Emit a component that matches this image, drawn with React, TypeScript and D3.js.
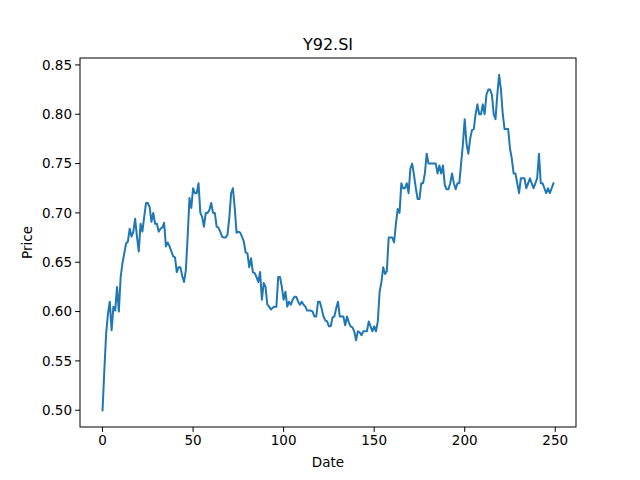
import React from "react";
import * as d3 from "d3";

const title = "Y92.SI";
const xLabel = "Date";
const yLabel = "Price";
const prices: number[] = [
  0.5, 0.541, 0.578, 0.598, 0.61, 0.581, 0.605, 0.601, 0.625, 0.6,
  0.635, 0.649, 0.659, 0.669, 0.671, 0.684, 0.676, 0.681, 0.694, 0.676,
  0.661, 0.689, 0.681, 0.696, 0.71, 0.71, 0.706, 0.691, 0.7, 0.689,
  0.689, 0.681, 0.684, 0.685, 0.69, 0.666, 0.67, 0.666, 0.661, 0.656,
  0.655, 0.64, 0.645, 0.645, 0.636, 0.63, 0.642, 0.676, 0.715, 0.705,
  0.725, 0.72, 0.72, 0.73, 0.7, 0.696, 0.686, 0.7, 0.7, 0.703,
  0.71, 0.7, 0.7, 0.686, 0.685, 0.681, 0.676, 0.675, 0.675, 0.678,
  0.695, 0.72, 0.725, 0.705, 0.68, 0.681, 0.68, 0.676, 0.671, 0.66,
  0.659, 0.645, 0.654, 0.64, 0.639, 0.635, 0.63, 0.64, 0.612, 0.629,
  0.625, 0.607, 0.605, 0.602, 0.604, 0.605, 0.605, 0.635, 0.635, 0.625,
  0.612, 0.62, 0.605, 0.61, 0.607, 0.612, 0.615, 0.615, 0.61, 0.607,
  0.61, 0.607, 0.605, 0.601, 0.601, 0.601, 0.6, 0.595, 0.595, 0.61,
  0.61, 0.603, 0.595, 0.591, 0.59, 0.585, 0.585, 0.594, 0.595, 0.603,
  0.61, 0.595, 0.595, 0.595, 0.586, 0.595, 0.589, 0.585, 0.584, 0.58,
  0.571, 0.58, 0.579, 0.576, 0.58, 0.58, 0.58, 0.59, 0.585, 0.58,
  0.585, 0.58, 0.59, 0.62, 0.63, 0.645, 0.638, 0.641, 0.675, 0.675,
  0.675, 0.67, 0.689, 0.704, 0.7, 0.73, 0.725, 0.725, 0.73, 0.72,
  0.745, 0.75, 0.738, 0.725, 0.714, 0.714, 0.73, 0.73, 0.74, 0.76,
  0.75, 0.75, 0.75, 0.75, 0.75, 0.74, 0.748, 0.74, 0.748, 0.728,
  0.724, 0.724, 0.73, 0.74, 0.73, 0.724, 0.73, 0.73, 0.75, 0.77,
  0.795, 0.77, 0.76, 0.775, 0.784, 0.785, 0.8, 0.81, 0.8, 0.8,
  0.81, 0.8, 0.82, 0.825, 0.825, 0.82, 0.8, 0.795, 0.82, 0.84,
  0.825, 0.8, 0.785, 0.785, 0.785, 0.765, 0.755, 0.74, 0.74, 0.73,
  0.72, 0.735, 0.735, 0.735, 0.725, 0.73, 0.735, 0.73, 0.725, 0.73,
  0.735, 0.76, 0.73, 0.73, 0.725, 0.72, 0.725, 0.72, 0.725, 0.73,
];
const xTicks = [0, 50, 100, 150, 200, 250];
const yTicks = [0.5, 0.55, 0.6, 0.65, 0.7, 0.75, 0.8, 0.85];

export default function App() {
  const W = 640, H = 480;
  const L = 80, R = 576, T = 58, B = 427;
  const n = prices.length;
  const xPad = (n - 1) * 0.05;
  const x = d3.scaleLinear().domain([-xPad, n - 1 + xPad]).range([L, R]);
  const ymin = d3.min(prices)!, ymax = d3.max(prices)!;
  const yPad = (ymax - ymin) * 0.05;
  const y = d3.scaleLinear().domain([ymin - yPad, ymax + yPad]).range([B, T]);
  const line = d3.line<number>().x((_, i) => x(i)).y((d) => y(d));
  const font = "DejaVu Sans, sans-serif";
  return (
    <svg width={W} height={H} style={{ position: "absolute", left: 0, top: 0 }} fontFamily={font}>
      <rect width={W} height={H} fill="#fff" />
      <path d={line(prices)!} fill="none" stroke="#1f77b4" strokeWidth={2} strokeLinejoin="round" strokeLinecap="square" />
      <rect x={L} y={T} width={R - L} height={B - T} fill="none" stroke="#000" strokeWidth={1} />
      {xTicks.map((t) => (
        <g key={t}>
          <line x1={x(t)} x2={x(t)} y1={B} y2={B + 4.9} stroke="#000" strokeWidth={1} />
          <text x={x(t)} y={B + 18} fontSize={13.5} textAnchor="middle">{t}</text>
        </g>
      ))}
      {yTicks.map((t) => (
        <g key={t}>
          <line x1={L - 4.9} x2={L} y1={y(t)} y2={y(t)} stroke="#000" strokeWidth={1} />
          <text x={L - 8} y={y(t) + 4.8} fontSize={13.5} textAnchor="end">{t.toFixed(2)}</text>
        </g>
      ))}
      <text x={(L + R) / 2} y={467} fontSize={13.5} textAnchor="middle">{xLabel}</text>
      <text transform={`translate(32,${(T + B) / 2}) rotate(-90)`} fontSize={13.5} textAnchor="middle">{yLabel}</text>
      <text x={(L + R) / 2} y={50} fontSize={16} textAnchor="middle">{title}</text>
    </svg>
  );
}
